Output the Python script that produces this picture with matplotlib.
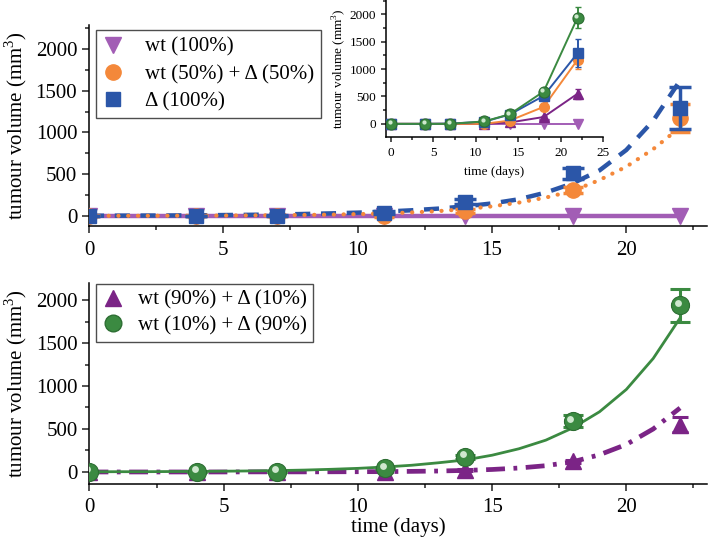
import matplotlib
matplotlib.use("Agg")
import matplotlib.pyplot as plt
from matplotlib.lines import Line2D
from matplotlib.ticker import MultipleLocator
from matplotlib.transforms import offset_copy

plt.rcParams['font.family'] = ['Liberation Serif', 'DejaVu Serif']
plt.rcParams['mathtext.fontset'] = 'custom'
plt.rcParams['mathtext.rm'] = 'Liberation Serif'

# ---------------- data ----------------
days = [0, 4, 7, 11, 14, 18, 22]
wt100 = [0, 0, 0, 0, 0, 0, 0]
wt100_err = [0, 0, 0, 0, 0, 0, 0]
wt50_d50 = [0, 0, 0, 0, 60, 310, 1170]
wt50_d50_err = [5, 5, 5, 10, 20, 40, 170]
d100 = [0, 0, 5, 40, 170, 510, 1290]
d100_err = [5, 5, 10, 15, 30, 70, 250]
wt90_d10 = [0, 0, 0, 0, 25, 125, 550]
wt90_d10_err = [5, 5, 5, 5, 10, 20, 90]
wt10_d90 = [0, 0, 0, 45, 175, 590, 1940]
wt10_d90_err = [5, 5, 5, 10, 20, 70, 190]

# fitted curves (value at each day 0..22)
fit_days = list(range(23))
fit_wt100 = [0] * 23
fit_d100 = [3, 4, 5, 6, 8, 11, 14, 18, 24, 31, 40, 52, 68, 88, 115, 150, 200, 280,
            390, 545, 790, 1140, 1620]
fit_wt50_d50 = [1, 2, 2, 3, 4, 5, 7, 9, 12, 16, 22, 30, 42, 58, 82, 115, 160, 220,
                300, 430, 590, 800, 1060]
fit_wt90_d10 = [0, 0, 0, 0, 0, 0, 1, 1, 1, 2, 3, 4, 7, 11, 18, 29, 46, 73,
                118, 200, 320, 500, 744]
fit_wt10_d90 = [2, 3, 3, 5, 6, 9, 12, 16, 22, 31, 42, 58, 78, 107, 140, 195, 270, 370,
                512, 700, 960, 1320, 1790]

labels_top = ['wt (100%)', 'wt (50%) + Δ (50%)', 'Δ (100%)']
labels_bot = ['wt (90%) + Δ (10%)', 'wt (10%) + Δ (90%)']

# ---------------- style ----------------
c_wt100 = '#a25db5'
c_wt50 = '#f4883a'
c_d100 = '#2b56a8'
c_wt90 = '#7b2486'
c_wt10 = '#3b8a41'
c_hl = '#cfe8cf'

fig = plt.figure(figsize=(7.09, 5.40), dpi=100)
ax1 = fig.add_axes([0.1255, 0.5815, 0.8715, 0.3722])
ax2 = fig.add_axes([0.1262, 0.1037, 0.8708, 0.3722])
axi = fig.add_axes([0.5444, 0.7463, 0.3061, 0.2537])

FS = 15


def style_axes(ax, fs, major_len=5, minor_len=3, xpad=6):
    for s in ['top', 'right']:
        ax.spines[s].set_visible(False)
    for s in ['left', 'bottom']:
        ax.spines[s].set_linewidth(1.1)
    ax.tick_params(which='major', direction='out', length=major_len, width=1.1,
                   labelsize=fs, color='#222222')
    ax.tick_params(which='minor', direction='out', length=minor_len, width=1.1,
                   color='#222222')
    ax.tick_params(axis='x', which='major', pad=xpad)


def sphere(ax, x, y, size, zorder):
    ax.plot(x, y, ls='none', marker='o', ms=size, mfc=c_wt10, mec='#2d6e33',
            mew=0.8, zorder=zorder)
    tr = offset_copy(ax.transData, fig=fig, x=-size * 0.12, y=size * 0.14,
                     units='points')
    ax.plot(x, y, ls='none', marker='o', ms=size * 0.38, mfc=c_hl, mec='none',
            transform=tr, zorder=zorder + 0.1)


# ---------------- top panel ----------------
ax1.plot(fit_days, fit_wt100, color=c_wt100, lw=3.2, zorder=2)
ax1.plot(fit_days, fit_d100, color=c_d100, lw=3.2, ls=(0, (3.4, 2.4)), zorder=3)
ax1.plot(fit_days, fit_wt50_d50, color=c_wt50, lw=3.0, ls=(0, (0.05, 2.3)),
         dash_capstyle='round', zorder=4)
ax1.errorbar(days, wt100, yerr=wt100_err, ls='none', marker='v', ms=11,
             color=c_wt100, zorder=5)
ax1.errorbar(days, wt50_d50, yerr=wt50_d50_err, ls='none', marker='o', ms=11,
             color=c_wt50, ecolor=c_wt50, elinewidth=2.5, capsize=7, capthick=2.5,
             zorder=6)
ax1.errorbar(days, d100, yerr=d100_err, ls='none', marker='s', ms=10,
             color=c_d100, ecolor=c_d100, elinewidth=2.5, capsize=8, capthick=2.5,
             zorder=7)
ax1.set_xlim(0, 23)
ax1.set_ylim(-120, 2287)
ax1.xaxis.set_major_locator(MultipleLocator(5))
ax1.xaxis.set_minor_locator(MultipleLocator(2.5))
ax1.yaxis.set_major_locator(MultipleLocator(500))
ax1.yaxis.set_minor_locator(MultipleLocator(250))
style_axes(ax1, FS)
ax1.set_ylabel('tumour volume (mm$^3$)', fontsize=FS, labelpad=5)

h_top = [Line2D([], [], ls='none', marker='v', ms=12, color=c_wt100),
         Line2D([], [], ls='none', marker='o', ms=11, color=c_wt50),
         Line2D([], [], ls='none', marker='s', ms=10, color=c_d100)]
leg1 = ax1.legend(h_top, labels_top, loc='upper left', bbox_to_anchor=(0.011, 0.975),
                  fontsize=FS, frameon=True, fancybox=False, edgecolor='#222222',
                  handlelength=1.0, handletextpad=1.0, borderpad=0.35,
                  labelspacing=0.36, borderaxespad=0)
leg1.get_frame().set_linewidth(1.0)

# ---------------- bottom panel ----------------
ax2.plot(fit_days, fit_wt90_d10, color=c_wt90, lw=3.4, ls=(0, (4, 1.8, 0.8, 1.8)),
         zorder=2)
ax2.plot(fit_days, fit_wt10_d90, color=c_wt10, lw=2.0, zorder=3)
ax2.errorbar(days, wt90_d10, yerr=wt90_d10_err, ls='none', marker='^', ms=12,
             color=c_wt90, ecolor=c_wt90, elinewidth=2.2, capsize=6, capthick=2.2,
             zorder=4)
ax2.errorbar(days, wt10_d90, yerr=wt10_d90_err, ls='none', marker='none',
             ecolor=c_wt10, elinewidth=2.2, capsize=7, capthick=2.2, zorder=5)
sphere(ax2, days, wt10_d90, 13, 6)
ax2.set_xlim(0, 23)
ax2.set_ylim(-140, 2198)
ax2.xaxis.set_major_locator(MultipleLocator(5))
ax2.xaxis.set_minor_locator(MultipleLocator(2.5))
ax2.yaxis.set_major_locator(MultipleLocator(500))
ax2.yaxis.set_minor_locator(MultipleLocator(250))
style_axes(ax2, FS, xpad=5)
ax2.set_ylabel('tumour volume (mm$^3$)', fontsize=FS, labelpad=5)
ax2.set_xlabel('time (days)', fontsize=FS, labelpad=0)

h_bot = [Line2D([], [], ls='none', marker='^', ms=12, color=c_wt90),
         Line2D([], [], ls='none', marker='o', ms=12, mfc=c_wt10, mec='#2d6e33')]
leg2 = ax2.legend(h_bot, labels_bot, loc='upper left', bbox_to_anchor=(0.011, 0.995),
                  fontsize=FS, frameon=True, fancybox=False, edgecolor='#222222',
                  handlelength=1.0, handletextpad=0.7, borderpad=0.3,
                  labelspacing=0.3, borderaxespad=0)
leg2.get_frame().set_linewidth(1.0)

# ---------------- inset ----------------
axi.patch.set_alpha(0)
axi.errorbar(days, wt100, yerr=wt100_err, color=c_wt100, lw=1.4, marker='v',
             ms=7, zorder=2)
axi.errorbar(days, wt90_d10, yerr=wt90_d10_err, color=c_wt90, lw=1.4, marker='^',
             ms=7, capsize=2, zorder=3)
axi.errorbar(days, wt50_d50, yerr=wt50_d50_err, color=c_wt50, lw=1.4, marker='o',
             ms=7, capsize=2, zorder=4)
axi.errorbar(days, d100, yerr=d100_err, color=c_d100, lw=1.4, marker='s',
             ms=6.5, capsize=2, zorder=5)
axi.errorbar(days, wt10_d90, yerr=wt10_d90_err, color=c_wt10, lw=1.4, marker='none',
             capsize=2, zorder=6)
sphere(axi, days, wt10_d90, 8, 7)
axi.set_xlim(-0.6, 25)
axi.set_ylim(-240, 2260)
axi.xaxis.set_major_locator(MultipleLocator(5))
axi.xaxis.set_minor_locator(MultipleLocator(2.5))
axi.yaxis.set_major_locator(MultipleLocator(500))
axi.yaxis.set_minor_locator(MultipleLocator(250))
style_axes(axi, 9.5, major_len=3.5, minor_len=2, xpad=4)
axi.set_ylabel('tumour volume (mm$^3$)', fontsize=9.5, labelpad=1)
axi.set_xlabel('time (days)', fontsize=9.5, labelpad=5)

fig.savefig('out.png', dpi=100)
